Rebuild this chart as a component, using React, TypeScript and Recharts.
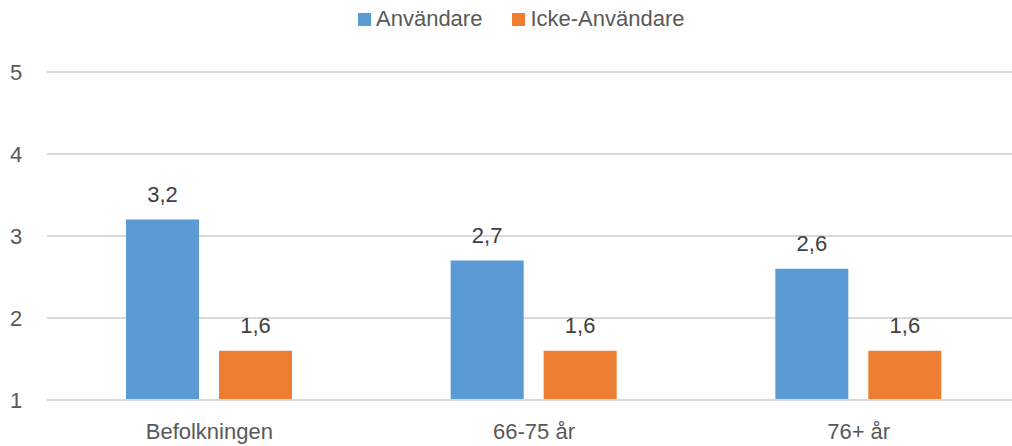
import { Bar, BarChart, CartesianGrid, LabelList, XAxis, YAxis } from "recharts";

const categories = ["Befolkningen", "66-75 år", "76+ år"];
const anvandare = [3.2, 2.7, 2.6];
const ickeAnvandare = [1.6, 1.6, 1.6];
const yTicks = [1, 2, 3, 4, 5];

const BLUE = "#5B9BD5";
const ORANGE = "#ED7D31";
const FONT = "'Liberation Sans', Arial, sans-serif";

const data = categories.map((name, i) => ({
  name,
  anvandare: anvandare[i],
  icke: ickeAnvandare[i],
}));

const formatValue = (v: unknown) => String(v).replace(".", ",");

function YTick({ y, payload }: any) {
  return (
    <text
      x={10}
      y={y}
      dy="0.35em"
      textAnchor="start"
      fill="#595959"
      fontSize={22}
      fontFamily={FONT}
    >
      {payload.value}
    </text>
  );
}

function LegendItem({ color, label, gap }: { color: string; label: string; gap: number }) {
  return (
    <span style={{ marginRight: gap }}>
      <span
        style={{
          display: "inline-block",
          width: 13,
          height: 13,
          background: color,
          marginRight: 5,
          verticalAlign: "baseline",
        }}
      />
      {label}
    </span>
  );
}

export default function App() {
  return (
    <div
      style={{
        position: "fixed",
        top: 0,
        left: 0,
        width: 1012,
        height: 446,
        overflow: "hidden",
        background: "#fff",
        fontFamily: FONT,
      }}
    >
      <style>{`.recharts-wrapper { max-width: none !important; overflow: visible !important; }
.recharts-surface { overflow: visible !important; max-width: none !important; }`}</style>
      <div
        style={{
          position: "absolute",
          top: 6,
          left: 358,
          fontSize: 22,
          lineHeight: "normal",
          color: "#595959",
          whiteSpace: "nowrap",
        }}
      >
        <LegendItem color={BLUE} label="Användare" gap={30} />
        <LegendItem color={ORANGE} label="Icke-Användare" gap={0} />
      </div>
      <div style={{ width: 1021, height: 446 }}>
        <BarChart
          width={1021}
          height={446}
          data={data}
          margin={{ top: 72, right: 0, bottom: 16, left: 0 }}
          barGap={20}
          barSize={73}
          style={{ overflow: "visible" }}
        >
          <CartesianGrid vertical={false} stroke="#d9d9d9" strokeWidth={2} />
          <XAxis
            dataKey="name"
            height={30}
            axisLine={{ stroke: "#d9d9d9", strokeWidth: 2 }}
            tickLine={false}
            tickSize={6}
            tickMargin={17}
            tick={{ fill: "#595959", fontSize: 22, fontFamily: FONT }}
          />
          <YAxis
            width={47}
            domain={[1, 5]}
            ticks={yTicks}
            allowDataOverflow
            axisLine={false}
            tickLine={false}
            tick={<YTick />}
          />
          <Bar dataKey="anvandare" fill={BLUE} isAnimationActive={false}>
            <LabelList
              dataKey="anvandare"
              position="top"
              offset={18}
              formatter={formatValue}
              fill="#404040"
              fontSize={22}
              fontFamily={FONT}
            />
          </Bar>
          <Bar dataKey="icke" fill={ORANGE} isAnimationActive={false}>
            <LabelList
              dataKey="icke"
              position="top"
              offset={18}
              formatter={formatValue}
              fill="#404040"
              fontSize={22}
              fontFamily={FONT}
            />
          </Bar>
        </BarChart>
      </div>
    </div>
  );
}
